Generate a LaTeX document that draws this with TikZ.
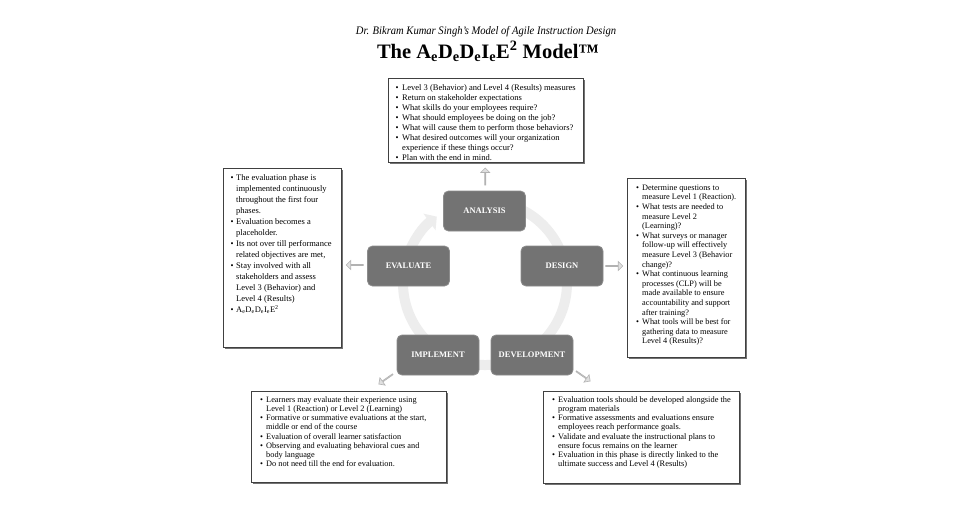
\documentclass[tikz,border=0pt]{standalone}
\usepackage{fontspec}
\setmainfont{Liberation Serif}
\usetikzlibrary{arrows.meta,shapes.arrows,shadows,calc}
\newcommand{\blist}[2]{\begin{tabular}{@{}p{#1}@{}l@{}}#2\end{tabular}}
\begin{document}
\begin{tikzpicture}[x=1pt,y=-1pt,
  phase/.style={draw=black!45, fill=black!55, rounded corners=5pt, minimum width=82pt,
    minimum height=40pt, inner sep=0pt, text=white, line width=0.8pt,
    font=\fontsize{8.5}{9}\selectfont\bfseries},
  infobox/.style={draw=black!75, line width=1pt, fill=white, inner sep=0pt, anchor=north west,
    drop shadow={shadow xshift=1.2pt, shadow yshift=-1.2pt, fill=black!55, opacity=1}},
  listtext/.style={anchor=north west, inner sep=0pt, align=left},
  smallarrow/.style={single arrow, draw=black!30, fill=black!12, minimum height=17pt,
    minimum width=9pt, single arrow head extend=2.2pt, inner sep=0pt, line width=0.6pt},
  ring/.style={line width=10pt, draw=black!7, -{Triangle[length=9pt,width=20pt]}}
]
\useasboundingbox[fill=white] (0,0) rectangle (971,523);

% titles
\node[anchor=base, inner sep=0pt] (subtitle) at (486,34)
  {\scalebox{0.92}[1]{\fontsize{11.5}{12}\selectfont\itshape Dr. Bikram Kumar Singh's Model of Agile Instruction Design}};
\node[anchor=base, inner sep=0pt] (title) at (488,58)
  {\fontsize{20.5}{24}\selectfont\bfseries The A\textsubscript{e}D\textsubscript{e}D\textsubscript{e}I\textsubscript{e}E\textsuperscript{2} Model™};

% ring
\coordinate (ringc) at (485,283);
\draw[ring] ([shift={(70:82pt)}]ringc) arc[start angle=70, end angle=-234, radius=82pt];

% phases
\node[phase] (analysis) at (484.5,211) {ANALYSIS};
\node[phase] (evaluate) at (408.5,266) {EVALUATE};
\node[phase] (design) at (562,266) {DESIGN};
\node[phase] (implement) at (438,355) {IMPLEMENT};
\node[phase] (development) at (532,355) {DEVELOPMENT};

% info boxes
\node[infobox, minimum width=195pt, minimum height=84pt] (anbox) at (388,78) {};
\node[listtext] (antext) at ([shift={(7.5pt,-5pt)}]anbox.north west)
  {\fontsize{8.5}{10}\selectfont\blist{6.5pt}{
  \textbullet & Level 3 (Behavior) and Level 4 (Results) measures\\
  \textbullet & Return on stakeholder expectations\\
  \textbullet & What skills do your employees require?\\
  \textbullet & What should employees be doing on the job?\\
  \textbullet & What will cause them to perform those behaviors?\\
  \textbullet & What desired outcomes will your organization\\
  & experience if these things occur?\\
  \textbullet & Plan with the end in mind.}};

\node[infobox, minimum width=118pt, minimum height=179pt] (evbox) at (223,168) {};
\node[listtext] (evtext) at ([shift={(7.5pt,-4.3pt)}]evbox.north west)
  {\fontsize{8.5}{11}\selectfont\blist{5.5pt}{
  \textbullet & The evaluation phase is\\
  & implemented continuously\\
  & throughout the first four\\
  & phases.\\
  \textbullet & Evaluation becomes a\\
  & placeholder.\\
  \textbullet & Its not over till performance\\
  & related objectives are met,\\
  \textbullet & Stay involved with all\\
  & stakeholders and assess\\
  & Level 3 (Behavior) and\\
  & Level 4 (Results)\\
  \textbullet & A\textsubscript{e}D\textsubscript{e}D\textsubscript{e}I\textsubscript{e}E\textsuperscript{2}}};

\node[infobox, minimum width=118pt, minimum height=179pt] (dsbox) at (627,178) {};
\node[listtext] (dstext) at ([shift={(9pt,-5.3pt)}]dsbox.north west)
  {\fontsize{8.3}{9.6}\selectfont\blist{6pt}{
  \textbullet & Determine questions to\\
  & measure Level 1 (Reaction).\\
  \textbullet & What tests are needed to\\
  & measure Level 2\\
  & (Learning)?\\
  \textbullet & What surveys or manager\\
  & follow-up will effectively\\
  & measure Level 3 (Behavior\\
  & change)?\\
  \textbullet & What continuous learning\\
  & processes (CLP) will be\\
  & made available to ensure\\
  & accountability and support\\
  & after training?\\
  \textbullet & What tools will be best for\\
  & gathering data to measure\\
  & Level 4 (Results)?}};

\node[infobox, minimum width=195pt, minimum height=91pt] (imbox) at (251,391) {};
\node[listtext] (imtext) at ([shift={(9pt,-4.6pt)}]imbox.north west)
  {\fontsize{8.3}{9.2}\selectfont\blist{6pt}{
  \textbullet & Learners may evaluate their experience using\\
  & Level 1 (Reaction) or Level 2 (Learning)\\
  \textbullet & Formative or summative evaluations at the start,\\
  & middle or end of the course\\
  \textbullet & Evaluation of overall learner satisfaction\\
  \textbullet & Observing and evaluating behavioral cues and\\
  & body language\\
  \textbullet & Do not need till the end for evaluation.}};

\node[infobox, minimum width=196pt, minimum height=92pt] (dvbox) at (543,391) {};
\node[listtext] (dvtext) at ([shift={(9pt,-4.6pt)}]dvbox.north west)
  {\fontsize{8.4}{9.2}\selectfont\blist{6pt}{
  \textbullet & Evaluation tools should be developed alongside the\\
  & program materials\\
  \textbullet & Formative assessments and evaluations ensure\\
  & employees reach performance goals.\\
  \textbullet & Validate and evaluate the instructional plans to\\
  & ensure focus remains on the learner\\
  \textbullet & Evaluation in this phase is directly linked to the\\
  & ultimate success and Level 4 (Results)}};

% small arrows from phases toward boxes
\node[smallarrow, rotate=90] (arA) at ($(analysis.north)!0.5!(anbox.south)$) {};
\node[smallarrow, rotate=180] (arE) at (355,265) {};
\node[smallarrow, rotate=0] (arD) at (614,266) {};
\node[smallarrow, rotate=215] (arI) at (386,379) {};
\node[smallarrow, rotate=-35] (arV) at (583,376) {};
\end{tikzpicture}
\end{document}
